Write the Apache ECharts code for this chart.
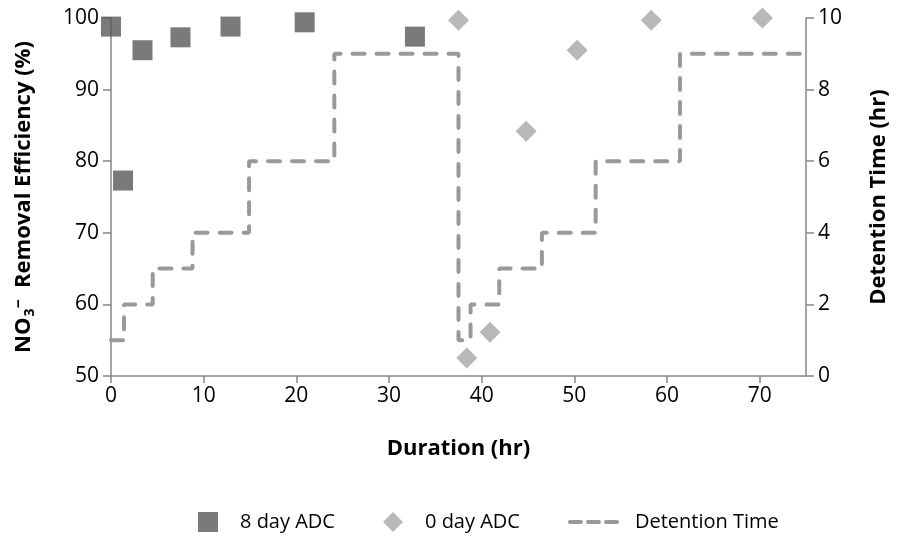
<!DOCTYPE html>
<html>
<head>
<meta charset="utf-8">
<script src="https://cdn.jsdelivr.net/npm/echarts@6/dist/echarts.min.js"></script>
<style>
  html, body { margin: 0; padding: 0; background: #fff; }
  #chart { width: 898px; height: 544px; }
</style>
</head>
<body>
<div id="chart"></div>
<script>
const eightDayX = [0, 1.3, 3.4, 7.5, 12.9, 20.9, 32.8];
const eightDayY = [98.8, 77.3, 95.5, 97.3, 98.8, 99.4, 97.4];

const zeroDayX = [37.5, 38.4, 40.9, 44.8, 50.3, 58.3, 70.3];
const zeroDayY = [99.7, 52.5, 56.1, 84.2, 95.5, 99.7, 100];

// step changes of detention time (value holds until next x)
const detentionX = [0, 1.4, 4.5, 8.8, 14.9, 24.1, 37.5, 38.8, 41.9, 46.5, 52.3, 61.4, 75];
const detentionY = [1, 2, 3, 4, 6, 9, 1, 2, 3, 4, 6, 9, 9];

const font = 'Open Sans';
const axisGrey = '#868686';
const lineGrey = '#999999';

const chart = echarts.init(document.getElementById('chart'));

const zip = (xs, ys) => xs.map((x, i) => [x, ys[i]]);

const legendText = (pad) => ({ fontSize: 20, color: '#000', padding: [0, 0, 0, pad], fontFamily: font });
const titleStyle = { fontSize: 22, fontWeight: 'bold', color: '#000', fontFamily: font };

chart.setOption({
  animation: false,
  textStyle: { fontFamily: font },
  grid: { left: 111, right: 90, top: 18, bottom: 168 },
  legend: [
    {
      left: 193, top: 507, itemWidth: 20, itemHeight: 20,
      data: ['8 day ADC'],
      textStyle: legendText(17)
    },
    {
      left: 378, top: 507, itemWidth: 20, itemHeight: 20,
      data: ['0 day ADC'],
      textStyle: legendText(17)
    },
    {
      left: 563, top: 507, itemWidth: 52, itemHeight: 20,
      data: [{ name: 'Detention Time', icon: 'path://M0,0 M2,8h11a2,2 0 0 1 0,4h-11a2,2 0 0 1 0,-4z M20,8h11a2,2 0 0 1 0,4h-11a2,2 0 0 1 0,-4z M38,8h11a2,2 0 0 1 0,4h-11a2,2 0 0 1 0,-4z M52,20' }],
      textStyle: legendText(10)
    }
  ],
  xAxis: {
    type: 'value', min: 0, max: 75, interval: 10,
    name: 'Duration (hr)', nameLocation: 'middle', nameGap: 62,
    nameTextStyle: titleStyle,
    axisLine: { lineStyle: { color: axisGrey, width: 1.5 } },
    axisTick: { show: true, length: 7, inside: false, lineStyle: { color: axisGrey, width: 1.5 } },
    axisLabel: { fontSize: 21, color: '#000', margin: 10, showMaxLabel: false },
    splitLine: { show: false }
  },
  yAxis: [
    {
      type: 'value', min: 50, max: 100, interval: 10,
      name: '{b|NO}{sub|3}{sup|−}{b|  Removal Efficiency (%)}',
      nameLocation: 'middle', nameRotate: 90, nameGap: 74,
      nameTextStyle: {
        ...titleStyle,
        rich: {
          b: titleStyle,
          sub: { ...titleStyle, fontSize: 14, padding: [12, 0, 0, 1] },
          sup: { ...titleStyle, fontSize: 16, padding: [0, 0, 10, 0] }
        }
      },
      axisLine: { show: true, lineStyle: { color: axisGrey, width: 1.5 } },
      axisTick: { show: true, length: 8, lineStyle: { color: axisGrey, width: 1.5 } },
      axisLabel: { fontSize: 21, color: '#000', margin: 12 },
      splitLine: { show: false }
    },
    {
      type: 'value', min: 0, max: 10, interval: 2, position: 'right',
      name: 'Detention Time (hr)', nameLocation: 'middle', nameRotate: 90, nameGap: 62,
      nameTextStyle: titleStyle,
      axisLine: { show: true, lineStyle: { color: axisGrey, width: 1.5 } },
      axisTick: { show: true, length: 8, lineStyle: { color: axisGrey, width: 1.5 } },
      axisLabel: { fontSize: 21, color: '#000', margin: 12 },
      splitLine: { show: false }
    }
  ],
  series: [
    {
      name: 'Detention Time', type: 'line', yAxisIndex: 1, step: 'end',
      data: zip(detentionX, detentionY),
      symbol: 'none',
      itemStyle: { color: lineGrey },
      lineStyle: { color: lineGrey, width: 4, type: [12, 12], cap: 'round' },
      z: 1
    },
    {
      name: '8 day ADC', type: 'scatter', yAxisIndex: 0,
      data: zip(eightDayX, eightDayY),
      symbol: 'rect', symbolSize: 20,
      itemStyle: { color: '#595959' },
      z: 3
    },
    {
      name: '0 day ADC', type: 'scatter', yAxisIndex: 0,
      data: zip(zeroDayX, zeroDayY),
      symbol: 'diamond', symbolSize: 21,
      itemStyle: { color: '#a6a6a6' },
      z: 3
    }
  ]
});
</script>
</body>
</html>
